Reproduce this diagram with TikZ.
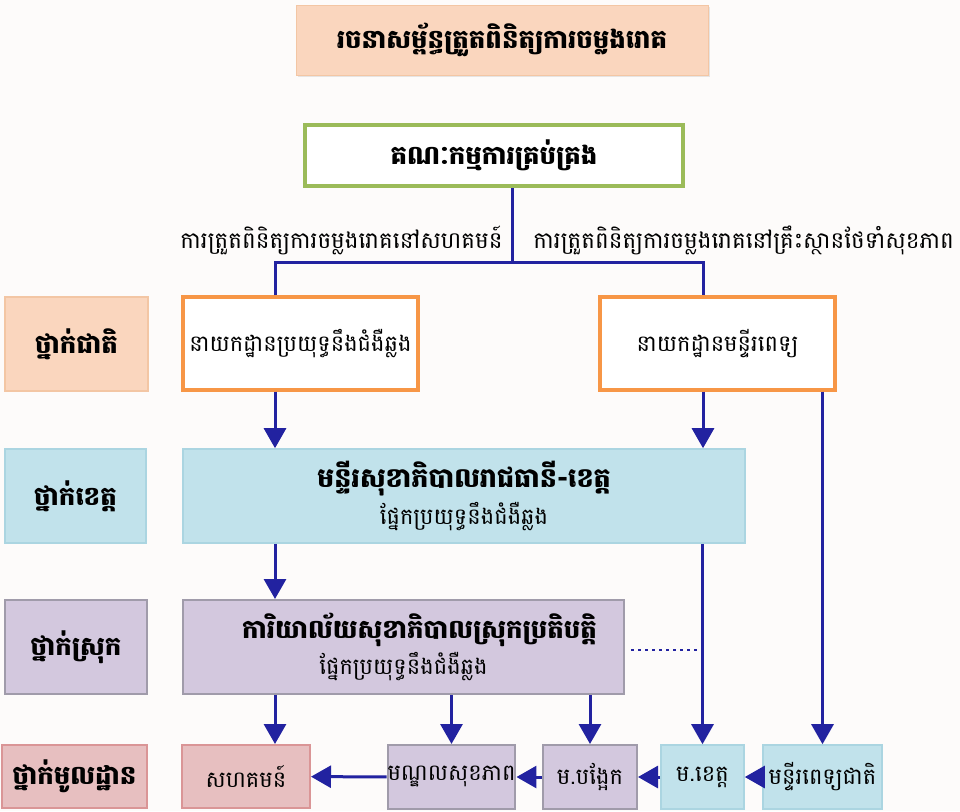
\documentclass[tikz,border=0pt]{standalone}
\usepackage{fontspec}
\newfontfamily\khmer[Script=Khmer]{Battambang}
\usetikzlibrary{arrows.meta,shadows}

\definecolor{bgcol}{HTML}{FDFBFA}
\definecolor{linkblue}{HTML}{2222A0}
\definecolor{peach}{HTML}{FAD6BE}
\definecolor{peachline}{HTML}{F3C6A4}
\definecolor{commgreen}{HTML}{9BBB59}
\definecolor{natorange}{HTML}{F79646}
\definecolor{provblue}{HTML}{C1E2EB}
\definecolor{provline}{HTML}{ABD5E1}
\definecolor{distpurple}{HTML}{D3C8DE}
\definecolor{distline}{HTML}{A09BAA}
\definecolor{basepink}{HTML}{E7BFC0}
\definecolor{baseline}{HTML}{DA9596}

\tikzset{
  box/.style={draw, rectangle, inner sep=0pt, align=center,
    font=\khmer\fontsize{11.3}{15}\selectfont},
  boldtxt/.style={font=\khmer\bfseries\fontsize{13}{17}\selectfont},
  softshadow/.style={drop shadow={opacity=0.18, shadow xshift=1.2pt, shadow yshift=-1.2pt}},
  titlebox/.style={box, boldtxt, fill=peach, draw=peachline, softshadow},
  commbox/.style={box, boldtxt, fill=white, draw=commgreen, line width=2pt, softshadow},
  natbox/.style={box, fill=white, draw=natorange, line width=1.6pt, softshadow},
  level/.style={box, boldtxt, line width=0.6pt},
  provbox/.style={box, fill=provblue, draw=provline, line width=0.8pt},
  distbox/.style={box, fill=distpurple, draw=distline, line width=1pt},
  basebox/.style={box, fill=basepink, draw=baseline, line width=1pt},
  note/.style={font=\khmer\fontsize{11.5}{15}\selectfont, inner sep=0pt},
  link/.style={draw=linkblue, line width=1.5pt},
  arr/.style={link, -{Triangle[length=10pt,width=11pt]}},
}

\begin{document}
\begin{tikzpicture}[x=0.5pt,y=-0.5pt]
  \fill [bgcol] (0,0) rectangle (960,811);
  \useasboundingbox (0,0) rectangle (960,811);

  % title and committee
  \node [titlebox, minimum width=206pt, minimum height=35pt] (title) at (502,40) {រចនាសម្ព័ន្ធត្រួតពិនិត្យការចម្លងរោគ};
  \node [commbox, minimum width=189pt, minimum height=30.5pt] (comm) at (494,155.5) {គណៈកម្មការគ្រប់គ្រង};
  \node [note, anchor=east] (commnote) at (503,240) {ការត្រួតពិនិត្យការចម្លងរោគនៅសហគមន៍};
  \node [note, anchor=west] (hospnote) at (533,240) {ការត្រួតពិនិត្យការចម្លងរោគនៅគ្រឹះស្ថានថែទាំសុខភាព};

  % levels
  \node [level, fill=peach, draw=peachline, minimum width=71.5pt, minimum height=47pt] (natlevel) at (76.5,344) {ថ្នាក់ជាតិ};
  \node [level, fill=provblue, draw=provline, minimum width=70.5pt, minimum height=47pt] (provlevel) at (75.5,496) {ថ្នាក់ខេត្ត};
  \node [level, fill=distpurple, draw=distline, minimum width=71pt, minimum height=47pt] (distlevel) at (76,647) {ថ្នាក់ស្រុក};
  \node [level, fill=basepink, draw=baseline, minimum width=72.5pt, minimum height=31.5pt] (baselevel) at (74.5,776.5) {ថ្នាក់មូលដ្ឋាន};

  % national
  \node [natbox, minimum width=117.5pt, minimum height=46.5pt] (nat1) at (300.5,343.5) {នាយកដ្ឋានប្រយុទ្ធនឹងជំងឺឆ្លង};
  \node [natbox, minimum width=117.5pt, minimum height=46.5pt] (nat2) at (717.5,343.5) {នាយកដ្ឋានមន្ទីរពេទ្យ};

  % province and district
  \node [provbox, minimum width=281pt, minimum height=47pt] (prov) at (464,496)
    {{\bfseries\fontsize{13.5}{17}\selectfont មន្ទីរសុខាភិបាលរាជធានី-ខេត្ត}\\[2pt]ផ្នែកប្រយុទ្ធនឹងជំងឺឆ្លង};
  \node [distbox, minimum width=220.5pt, minimum height=47pt] (dist) at (403.5,647)
    {{\bfseries\fontsize{13}{17}\selectfont\hspace*{16pt}ការិយាល័យសុខាភិបាលស្រុកប្រតិបត្តិ}\\[2pt]ផ្នែកប្រយុទ្ធនឹងជំងឺឆ្លង};

  % base
  \node [basebox, minimum width=64pt, minimum height=31.5pt] (comty) at (246,776.5) {សហគមន៍};
  \node [distbox, minimum width=61.5pt, minimum height=32pt] (hc) at (451.5,777) {មណ្ឌលសុខភាព};
  \node [distbox, minimum width=47pt, minimum height=32pt] (rh) at (590,777) {ម.បង្អែក};
  \node [provbox, minimum width=41.5pt, minimum height=32pt] (ph) at (702.5,777) {ម.ខេត្ត};
  \node [provbox, minimum width=59.5pt, minimum height=32pt] (nh) at (822.5,777) {មន្ទីរពេទ្យជាតិ};

  % connectors
  \coordinate (split) at (512,262);
  \coordinate (colA) at (275,0);
  \coordinate (colB) at (703,0);
  \draw [link] (comm.south -| split) -- (split);
  \draw [link] (nat1.north -| colA) |- (split) -| (nat2.north -| colB);
  \draw [arr] (nat1.south -| colA) -- (prov.north -| colA);
  \draw [arr] (nat2.south -| colB) -- (prov.north -| colB);
  \draw [arr] (nat2.south -| nh) -- (nh.north);
  \draw [arr] (prov.south -| colA) -- (dist.north -| colA);
  \draw [arr] (prov.south -| ph) -- (ph.north);
  \draw [arr] (dist.south -| colA) -- (comty.north -| colA);
  \draw [arr] (dist.south -| hc) -- (hc.north);
  \draw [arr] (dist.south -| rh) -- (rh.north);
  \draw [link, dotted, line width=1pt] ([xshift=3pt,yshift=-1.5pt]dist.east) -- ([yshift=-1.5pt]dist.east -| ph);
  \draw [arr] (nh) -- (ph);
  \draw [arr] (ph) -- (rh);
  \draw [arr] (rh) -- (hc);
  \draw [arr] (hc) -- (comty);
\end{tikzpicture}
\end{document}
